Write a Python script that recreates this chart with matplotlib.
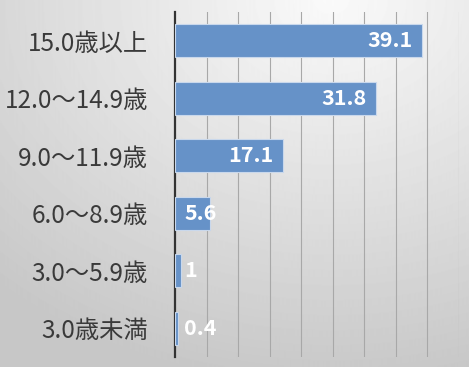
import numpy as np
import matplotlib
matplotlib.use("Agg")
from matplotlib import pyplot as plt

plt.rcParams['font.family'] = ['Noto Sans CJK JP', 'DejaVu Sans']

# data, bottom to top
categories = ["3.0歳未満", "3.0〜5.9歳", "6.0〜8.9歳", "9.0〜11.9歳", "12.0〜14.9歳", "15.0歳以上"]
values = [0.4, 1, 5.6, 17.1, 31.8, 39.1]
value_labels = ["0.4", "1", "5.6", "17.1", "31.8", "39.1"]

fig = plt.figure(figsize=(4.69, 3.67), dpi=100)

# radial gray background, light near the top middle
bg = fig.add_axes([0, 0, 1, 1], zorder=0)
yy, xx = np.mgrid[0:367, 0:469]
d = np.sqrt(((xx - 330) / 469.0) ** 2 + (yy / 367.0) ** 2)
shade = 0.98 - 0.2 * np.clip(d / 1.05, 0, 1)
bg.imshow(shade, cmap="gray", vmin=0, vmax=1, aspect="auto", extent=[0, 1, 0, 1], origin="upper")
bg.axis("off")

ax = fig.add_axes([175 / 469, 10 / 367, 284 / 469, 345 / 367], zorder=1)
ax.patch.set_alpha(0)

y = np.arange(len(categories))
ax.barh(y, values, height=0.58, color="#6692c8", edgecolor="#c9d8ec", linewidth=0.8, zorder=3)

ax.set_xlim(0, 45)
ax.set_ylim(-0.5, len(categories) - 0.5)
ax.set_xticks(np.arange(5, 46, 5))
ax.xaxis.grid(True, color="#a8a8a8", linewidth=0.8)
ax.set_axisbelow(True)
ax.tick_params(axis="x", length=0, labelbottom=False)
ax.tick_params(axis="y", length=0, pad=19.5)
ax.set_yticks(y)
ax.set_yticklabels(categories, fontsize=17.5, color="#3a3a3a")

for s in ["top", "right", "bottom"]:
    ax.spines[s].set_visible(False)
ax.spines["left"].set_color("#333333")
ax.spines["left"].set_linewidth(1.6)

for yi, v, lab in zip(y, values, value_labels):
    if v < 10:
        ax.annotate(lab, (0, yi), xytext=(6.5, 0), textcoords="offset points",
                    ha="left", va="center", color="white", fontsize=15.5, fontweight="bold", zorder=4)
    else:
        ax.annotate(lab, (v, yi), xytext=(-6.5, 0), textcoords="offset points",
                    ha="right", va="center", color="white", fontsize=15.5, fontweight="bold", zorder=4)

fig.savefig("out.png", dpi=100)
